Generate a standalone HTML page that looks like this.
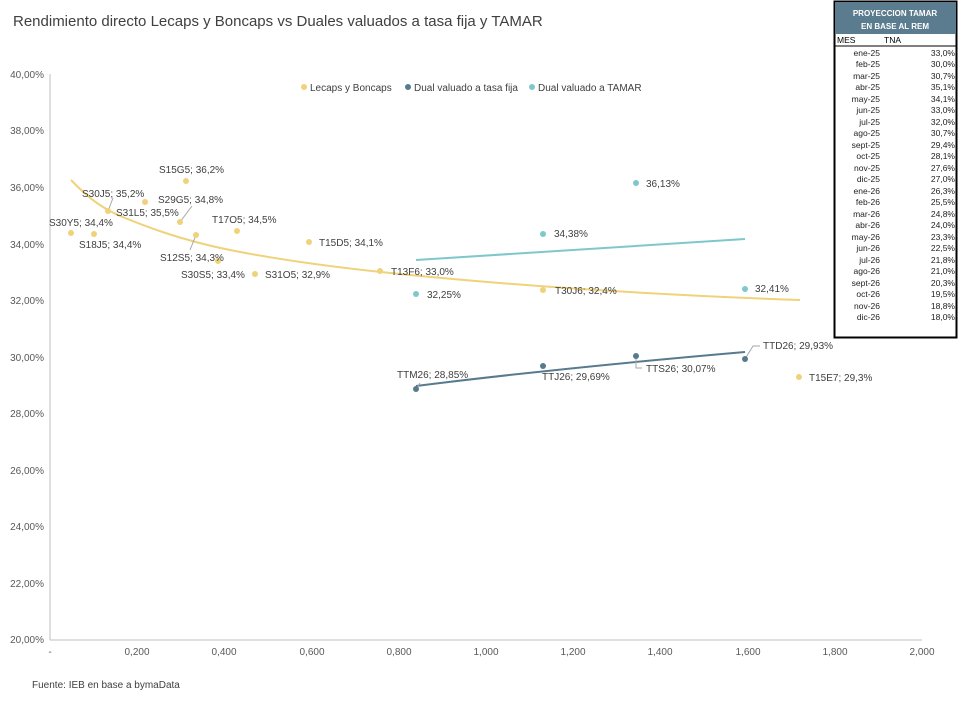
<!DOCTYPE html><html><head><meta charset="utf-8"><style>body{margin:0;background:#fff}svg{font-family:"Liberation Sans",sans-serif}</style></head><body>
<svg width="962" height="697" viewBox="0 0 962 697" xmlns="http://www.w3.org/2000/svg">
<text x="13" y="26" font-size="15" fill="#404040">Rendimiento directo Lecaps y Boncaps vs Duales valuados a tasa fija y TAMAR</text>
<g font-size="10" fill="#595959" text-anchor="end">
<text x="44" y="78">40,00%</text><text x="44" y="134">38,00%</text><text x="44" y="191">36,00%</text><text x="44" y="248">34,00%</text><text x="44" y="304">32,00%</text><text x="44" y="361">30,00%</text><text x="44" y="417">28,00%</text><text x="44" y="474">26,00%</text><text x="44" y="530">24,00%</text><text x="44" y="587">22,00%</text><text x="44" y="643">20,00%</text>
</g>
<line x1="50" y1="74" x2="50" y2="640" stroke="#bfbfbf"/>
<line x1="50" y1="640" x2="922" y2="640" stroke="#bfbfbf"/>
<g font-size="10" fill="#595959" text-anchor="middle">
<text x="50" y="655">-</text><text x="137" y="655">0,200</text><text x="224" y="655">0,400</text><text x="312" y="655">0,600</text><text x="399" y="655">0,800</text><text x="486" y="655">1,000</text><text x="573" y="655">1,200</text><text x="660" y="655">1,400</text><text x="748" y="655">1,600</text><text x="835" y="655">1,800</text><text x="922" y="655">2,000</text>
</g>
<g font-size="10" fill="#404040">
<circle cx="304" cy="87" r="3" fill="#f0d27a"/><text x="310" y="91">Lecaps y Boncaps</text>
<circle cx="408" cy="87" r="3" fill="#577a8f"/><text x="414" y="91">Dual valuado a tasa fija</text>
<circle cx="532" cy="87" r="3" fill="#7ec8cc"/><text x="538" y="91">Dual valuado a TAMAR</text>
</g>
<path d="M71,180 C90,200 105,210 125,218 S180,240 230,250 S330,267 400,274 S600,293 800,300" fill="none" stroke="#f0d27a" stroke-width="2"/>
<line x1="416" y1="260" x2="745" y2="239" stroke="#7ec8cc" stroke-width="2"/>
<path d="M416,386 Q560,368 745,352" fill="none" stroke="#577a8f" stroke-width="2"/>
<g stroke="#a6a6a6" stroke-width="1" fill="none">
<line x1="108" y1="211" x2="113" y2="198"/><line x1="180" y1="222" x2="192" y2="206"/><line x1="196" y1="235" x2="190" y2="250"/>
<polyline points="416,389 420,383"/><polyline points="636,356 636,368 642,368"/><polyline points="745,359 753,346 760,346"/>
</g>
<g fill="#f0d27a">
<circle cx="71" cy="233" r="3"/><circle cx="94" cy="234" r="3"/><circle cx="108" cy="211" r="3"/><circle cx="145" cy="202" r="3"/><circle cx="186" cy="181" r="3"/><circle cx="180" cy="222" r="3"/><circle cx="196" cy="235" r="3"/><circle cx="218" cy="261" r="3"/><circle cx="237" cy="231" r="3"/><circle cx="255" cy="274" r="3"/><circle cx="309" cy="242" r="3"/><circle cx="380" cy="271" r="3"/><circle cx="543" cy="290" r="3"/><circle cx="799" cy="377" r="3"/>
</g>
<g fill="#7ec8cc"><circle cx="416" cy="294" r="3"/><circle cx="543" cy="234" r="3"/><circle cx="636" cy="183" r="3"/><circle cx="745" cy="289" r="3"/></g>
<g fill="#577a8f"><circle cx="416" cy="389" r="3"/><circle cx="543" cy="366" r="3"/><circle cx="636" cy="356" r="3"/><circle cx="745" cy="359" r="3"/></g>
<g font-size="10" fill="#404040">
<text x="159" y="173">S15G5; 36,2%</text><text x="82" y="197">S30J5; 35,2%</text><text x="158" y="203">S29G5; 34,8%</text><text x="116" y="216">S31L5; 35,5%</text><text x="49" y="226">S30Y5; 34,4%</text><text x="212" y="223">T17O5; 34,5%</text><text x="79" y="248">S18J5; 34,4%</text><text x="319" y="246">T15D5; 34,1%</text><text x="160" y="261">S12S5; 34,3%</text><text x="181" y="278">S30S5; 33,4%</text><text x="265" y="278">S31O5; 32,9%</text><text x="391" y="275">T13F6; 33,0%</text><text x="555" y="294">T30J6; 32,4%</text><text x="809" y="381">T15E7; 29,3%</text>
<text x="427" y="298">32,25%</text><text x="554" y="237">34,38%</text><text x="646" y="187">36,13%</text><text x="755" y="292">32,41%</text>
<text x="397" y="378">TTM26; 28,85%</text><text x="542" y="380">TTJ26; 29,69%</text><text x="646" y="372">TTS26; 30,07%</text><text x="763" y="349">TTD26; 29,93%</text>
</g>
<text x="32" y="688" font-size="10" fill="#404040">Fuente: IEB en base a bymaData</text>
<rect x="834.5" y="1.5" width="122" height="336" fill="#fff" stroke="#000" stroke-width="2"/>
<rect x="835" y="2" width="121" height="32" fill="#5b7b8e"/>
<g font-size="8" fill="#fff" font-weight="bold" text-anchor="middle"><text x="895" y="16">PROYECCION TAMAR</text><text x="895" y="29">EN BASE AL REM</text></g>
<g font-size="8.5" fill="#000"><text x="837" y="43">MES</text><text x="884" y="43">TNA</text></g>
<line x1="835" y1="46" x2="956" y2="46" stroke="#000" stroke-width="1"/>
<g font-size="8.5" fill="#222">
<g text-anchor="end">
<text x="880" y="56">ene-25</text><text x="880" y="67">feb-25</text><text x="880" y="79">mar-25</text><text x="880" y="90">abr-25</text><text x="880" y="102">may-25</text><text x="880" y="113">jun-25</text><text x="880" y="125">jul-25</text><text x="880" y="136">ago-25</text><text x="880" y="148">sept-25</text><text x="880" y="159">oct-25</text><text x="880" y="171">nov-25</text><text x="880" y="182">dic-25</text><text x="880" y="194">ene-26</text><text x="880" y="205">feb-26</text><text x="880" y="217">mar-26</text><text x="880" y="228">abr-26</text><text x="880" y="240">may-26</text><text x="880" y="251">jun-26</text><text x="880" y="263">jul-26</text><text x="880" y="274">ago-26</text><text x="880" y="286">sept-26</text><text x="880" y="297">oct-26</text><text x="880" y="309">nov-26</text><text x="880" y="320">dic-26</text>
<text x="955" y="56">33,0%</text><text x="955" y="67">30,0%</text><text x="955" y="79">30,7%</text><text x="955" y="90">35,1%</text><text x="955" y="102">34,1%</text><text x="955" y="113">33,0%</text><text x="955" y="125">32,0%</text><text x="955" y="136">30,7%</text><text x="955" y="148">29,4%</text><text x="955" y="159">28,1%</text><text x="955" y="171">27,6%</text><text x="955" y="182">27,0%</text><text x="955" y="194">26,3%</text><text x="955" y="205">25,5%</text><text x="955" y="217">24,8%</text><text x="955" y="228">24,0%</text><text x="955" y="240">23,3%</text><text x="955" y="251">22,5%</text><text x="955" y="263">21,8%</text><text x="955" y="274">21,0%</text><text x="955" y="286">20,3%</text><text x="955" y="297">19,5%</text><text x="955" y="309">18,8%</text><text x="955" y="320">18,0%</text>
</g></g>
</svg>
</body></html>
